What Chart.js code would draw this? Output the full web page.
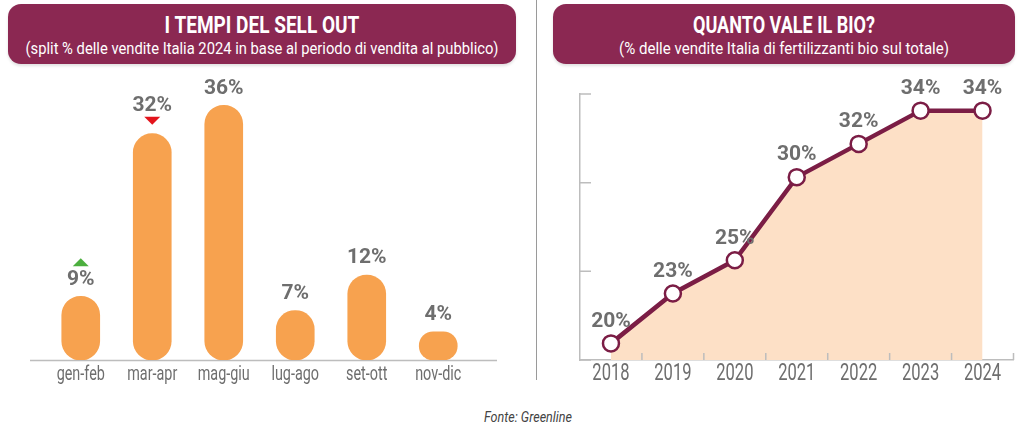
<!DOCTYPE html>
<html>
<head>
<meta charset="utf-8">
<script src="https://cdn.jsdelivr.net/npm/chart.js"></script>
<style>
  body { margin: 0; width: 1024px; height: 441px; background: #fff; position: relative; overflow: hidden;
         font-family: Roboto, sans-serif; }
  .banner { position: absolute; top: 4px; height: 60px; background: #8b2852; border-radius: 13px;
            color: #fff; box-shadow: 0 2px 3px rgba(0,0,0,0.12); }
  .banner .t, .banner .s { position: absolute; left: 50%; white-space: nowrap; transform-origin: center; }
  .banner .t { font-weight: bold; font-size: 24px; line-height: 26px; top: 8px; }
  .banner .s { font-size: 17px; line-height: 20px; top: 34px; }
  #divider { position: absolute; left: 536px; top: 0; width: 1px; height: 380px; background: #9a9a9a; }
  #fonte { position: absolute; left: 528px; top: 408px; font-style: italic; font-size: 15px; color: #444;
           white-space: nowrap; transform-origin: center; }
  canvas { position: absolute; }
</style>
</head>
<body>
<div class="banner" style="left:8px;width:508px">
  <span class="t" data-w="195">I TEMPI DEL SELL OUT</span>
  <span class="s" data-w="473">(split % delle vendite Italia 2024 in base al periodo di vendita al pubblico)</span>
</div>
<div class="banner" style="left:553px;width:462px">
  <span class="t" data-w="182">QUANTO VALE IL BIO?</span>
  <span class="s" data-w="330">(% delle vendite Italia di fertilizzanti bio sul totale)</span>
</div>
<div id="divider"></div>
<canvas id="sellOut" width="536" height="320" style="left:0;top:70px"></canvas>
<canvas id="bio" width="488" height="320" style="left:536px;top:70px"></canvas>
<span id="fonte" data-w="88">Fonte: Greenline</span>

<script>
// --- dati ---
const periodi = ["gen-feb", "mar-apr", "mag-giu", "lug-ago", "set-ott", "nov-dic"];
const quoteVendite = [9, 32, 36, 7, 12, 4];
const trend = ["up", "down", null, null, null, null];

const anni = ["2018", "2019", "2020", "2021", "2022", "2023", "2024"];
const quotaBio = [20, 23, 25, 30, 32, 34, 34];

const GREY = "#6e6e6e";

// squeeze the html titles to the condensed look of the original, centred on their anchor
document.querySelectorAll("[data-w]").forEach(el => {
    const sx = Number(el.dataset.w) / el.offsetWidth;
    el.style.transform = `translateX(-50%) scaleX(${sx})`;
});

function condensedText(ctx, text, x, y, sx) {
    ctx.save();
    ctx.translate(x, y);
    ctx.scale(sx, 1);
    ctx.fillText(text, 0, 0);
    ctx.restore();
}

// percent labels above each mark (+ optional trend arrows)
const valueLabels = {
    id: "valueLabels",
    afterDatasetsDraw(chart, args, opts) {
        const ctx = chart.ctx;
        const meta = chart.getDatasetMeta(0);
        const values = chart.data.datasets[0].data;
        ctx.save();
        ctx.font = "bold 21px Roboto, sans-serif";
        ctx.textAlign = "center";
        ctx.textBaseline = "middle";
        meta.data.forEach((el, i) => {
            const dir = opts.trend ? opts.trend[i] : null;
            const extra = dir === "down" ? 11 : 0;
            const y = el.y - opts.offset - extra;
            ctx.fillStyle = GREY;
            ctx.fillText(values[i] + "%", el.x, y);
            if (!dir) return;
            ctx.beginPath();
            if (dir === "up") {
                const cy = y - 17;
                ctx.fillStyle = "#4caf3e";
                ctx.moveTo(el.x - 8, cy + 4);
                ctx.lineTo(el.x + 8, cy + 4);
                ctx.lineTo(el.x, cy - 4);
            } else {
                const cy = el.y - 13;
                ctx.fillStyle = "#e3141c";
                ctx.moveTo(el.x - 8, cy - 4);
                ctx.lineTo(el.x + 8, cy - 4);
                ctx.lineTo(el.x, cy + 4);
            }
            ctx.closePath();
            ctx.fill();
        });
        ctx.restore();
    }
};

// x tick labels drawn narrow, at the positions given by the x scale
const condensedTicks = {
    id: "condensedTicks",
    afterDraw(chart, args, opts) {
        const { ctx, chartArea, scales } = chart;
        ctx.save();
        ctx.font = opts.font;
        ctx.fillStyle = GREY;
        ctx.textAlign = "center";
        ctx.textBaseline = "middle";
        scales.x.ticks.forEach((t, i) => {
            condensedText(ctx, scales.x.getLabelForValue(t.value), scales.x.getPixelForTick(i),
                chartArea.bottom + opts.gap, opts.sx);
        });
        ctx.restore();
    }
};

// baseline under the bars, a bit wider than the plot area
const barBaseline = {
    id: "barBaseline",
    beforeDatasetsDraw(chart) {
        const { ctx, chartArea } = chart;
        ctx.save();
        ctx.strokeStyle = "#bdbdbd";
        ctx.lineWidth = 1.5;
        ctx.beginPath();
        ctx.moveTo(chartArea.left - 15, chartArea.bottom + 0.5);
        ctx.lineTo(chartArea.right + 23, chartArea.bottom + 0.5);
        ctx.stroke();
        ctx.restore();
    }
};

// small inward tick marks on the line chart axes
const innerTicks = {
    id: "innerTicks",
    afterDraw(chart) {
        const { ctx, chartArea, scales } = chart;
        ctx.save();
        ctx.strokeStyle = "#bdbdbd";
        ctx.lineWidth = 1.5;
        ctx.beginPath();
        scales.y.ticks.forEach((t, i) => {
            const y = scales.y.getPixelForTick(i);
            ctx.moveTo(chartArea.left, y);
            ctx.lineTo(chartArea.left + 11, y);
        });
        for (let i = 1; i <= anni.length; i++) {
            const x = scales.x.getPixelForValue(i - 0.5);
            ctx.moveTo(x, chartArea.bottom);
            ctx.lineTo(x, chartArea.bottom - 7);
        }
        ctx.stroke();
        ctx.restore();
    }
};

// === I TEMPI DEL SELL OUT ===
new Chart(document.getElementById("sellOut"), {
    type: "bar",
    data: {
        labels: periodi,
        datasets: [{
            data: quoteVendite,
            backgroundColor: "#f7a24f",
            borderRadius: 19,
            borderSkipped: false,
            barThickness: 38
        }]
    },
    options: {
        responsive: false,
        animation: false,
        layout: { padding: { left: 45, right: 62, top: 0, bottom: 0 } },
        plugins: {
            legend: { display: false },
            tooltip: { enabled: false },
            valueLabels: { offset: 17, trend: trend },
            condensedTicks: { font: "20px Roboto, sans-serif", sx: 0.72, gap: 15 }
        },
        scales: {
            x: {
                grid: { display: false },
                border: { display: false },
                ticks: { display: false },
                afterFit(s) { s.height = 30; }
            },
            y: { display: false, min: 0, max: 41 }
        }
    },
    plugins: [barBaseline, valueLabels, condensedTicks]
});

// === QUANTO VALE IL BIO? ===
new Chart(document.getElementById("bio"), {
    type: "line",
    data: {
        labels: anni,
        datasets: [{
            data: quotaBio,
            borderColor: "#7b1d45",
            borderWidth: 4.5,
            fill: "start",
            backgroundColor: "#fde0c6",
            tension: 0,
            pointRadius: 8,
            pointBackgroundColor: "#ffffff",
            pointBorderColor: "#7b1d45",
            pointBorderWidth: 2.5
        }]
    },
    options: {
        responsive: false,
        animation: false,
        layout: { padding: { left: 44, right: 9, top: 24, bottom: 0 } },
        plugins: {
            legend: { display: false },
            tooltip: { enabled: false },
            valueLabels: { offset: 22 },
            condensedTicks: { font: "24px Roboto, sans-serif", sx: 0.69, gap: 14 }
        },
        scales: {
            x: {
                offset: true,
                grid: { display: false },
                border: { color: "#bdbdbd", width: 1.5 },
                ticks: { display: false },
                afterFit(s) { s.height = 30; }
            },
            y: {
                min: 19,
                max: 35,
                grid: { display: false },
                border: { color: "#bdbdbd", width: 1.5 },
                ticks: { display: false, count: 4 },
                afterFit(s) { s.width = 0; }
            }
        }
    },
    plugins: [innerTicks, valueLabels, condensedTicks]
});
</script>
</body>
</html>
